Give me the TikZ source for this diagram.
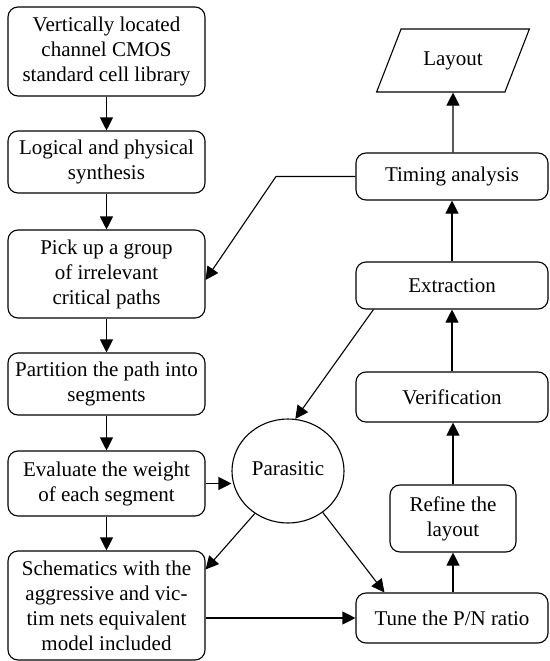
\documentclass[tikz,border=0pt]{standalone}
\usepackage{fontspec}
\setmainfont{Liberation Serif}
\usetikzlibrary{arrows.meta,shapes.geometric}
\begin{document}
\begin{tikzpicture}[x=1pt, y=-1pt, line width=1.1pt,
		box/.style={draw, rounded corners=10pt, align=center, inner sep=2pt,
			font=\fontsize{21}{25}\selectfont},
		lbox/.style={box, minimum width=197pt},
		rbox/.style={box, minimum width=192pt},
		arr/.style={-{Triangle[length=13pt,width=13pt]}}]
	% Cadre
	\useasboundingbox (0,0) rectangle (549,661);
	% Colonne gauche
	\node [lbox, minimum height=89pt]	(lib)	at (106.5, 51.5)	{Vertically located\\channel CMOS\\standard cell library};
	\node [lbox, minimum height=62pt]	(syn)	at (106.5, 162)		{Logical and physical\\synthesis};
	\node [lbox, minimum height=88pt]	(pick)	at (106.5, 274)		{Pick up a group\\of irrelevant\\critical paths};
	\node [lbox, minimum height=62pt]	(part)	at (106.5, 384)		{Partition the path into\\segments};
	\node [lbox, minimum height=65pt]	(eval)	at (106.5, 483.5)	{Evaluate the weight\\of each segment};
	\node [lbox, minimum height=109pt]	(schem)	at (106.5, 605.5)	{Schematics with the\\aggressive and vic-\\tim nets equivalent\\model included};
	% Parasitic
	\node [draw, ellipse, minimum width=112pt, minimum height=104pt,
		font=\fontsize{21}{25}\selectfont]	(para)	at (288, 471)	{\raisebox{5pt}{Parasitic}};
	% Colonne droite
	\node [draw, trapezium, trapezium left angle=58, trapezium right angle=122,
		trapezium stretches=true, minimum width=154pt, minimum height=63pt,
		font=\fontsize{21}{25}\selectfont]	(layout)	at (453, 60.5)	{Layout};
	\node [rbox, minimum height=47pt]	(timing)	at (452, 176.5)	{Timing analysis};
	\node [rbox, minimum height=47pt]	(extract)	at (452, 285.5)	{Extraction};
	\node [rbox, minimum height=50pt]	(verif)		at (452, 397)	{Verification};
	\node [box, minimum width=126pt, minimum height=67pt]	(refine)	at (453, 518.5)	{Refine the\\layout};
	\node [rbox, minimum height=50pt]	(tune)		at (452, 618)	{Tune the P/N ratio};
	% Fleches
	\draw [arr]	(lib)	-- (syn);
	\draw [arr]	(syn)	-- (pick);
	\draw [arr]	(pick)	-- (part);
	\draw [arr]	(part)	-- (eval);
	\draw [arr]	(eval)	-- (schem);
	\draw [arr]	(eval.east)	-- (eval.east -| para.west);
	\draw [arr]	(para.232)	-- ([yshift=-19pt]schem.north east);
	\draw [arr]	(para.-50)	-- ([xshift=29pt]tune.north west);
	\draw [arr]	(schem.east |- tune.west)	-- (tune.west);
	\draw [arr]	(tune.north -| refine)	-- (refine);
	\draw [arr]	(refine.north)	-- (refine.north |- verif.south);
	\draw [arr]	(verif)	-- (extract);
	\draw [arr]	(extract)	-- (timing);
	\draw [arr]	(timing.north -| layout)	-- (layout);
	\draw [arr]	([xshift=18pt]extract.south west)	-- (para.82);
	% Retour
	\coordinate (bend) at (276, 176.5);
	\draw [arr]	(timing.west)	-- (bend)	-- ([yshift=-6pt]pick.east);
\end{tikzpicture}
\end{document}
